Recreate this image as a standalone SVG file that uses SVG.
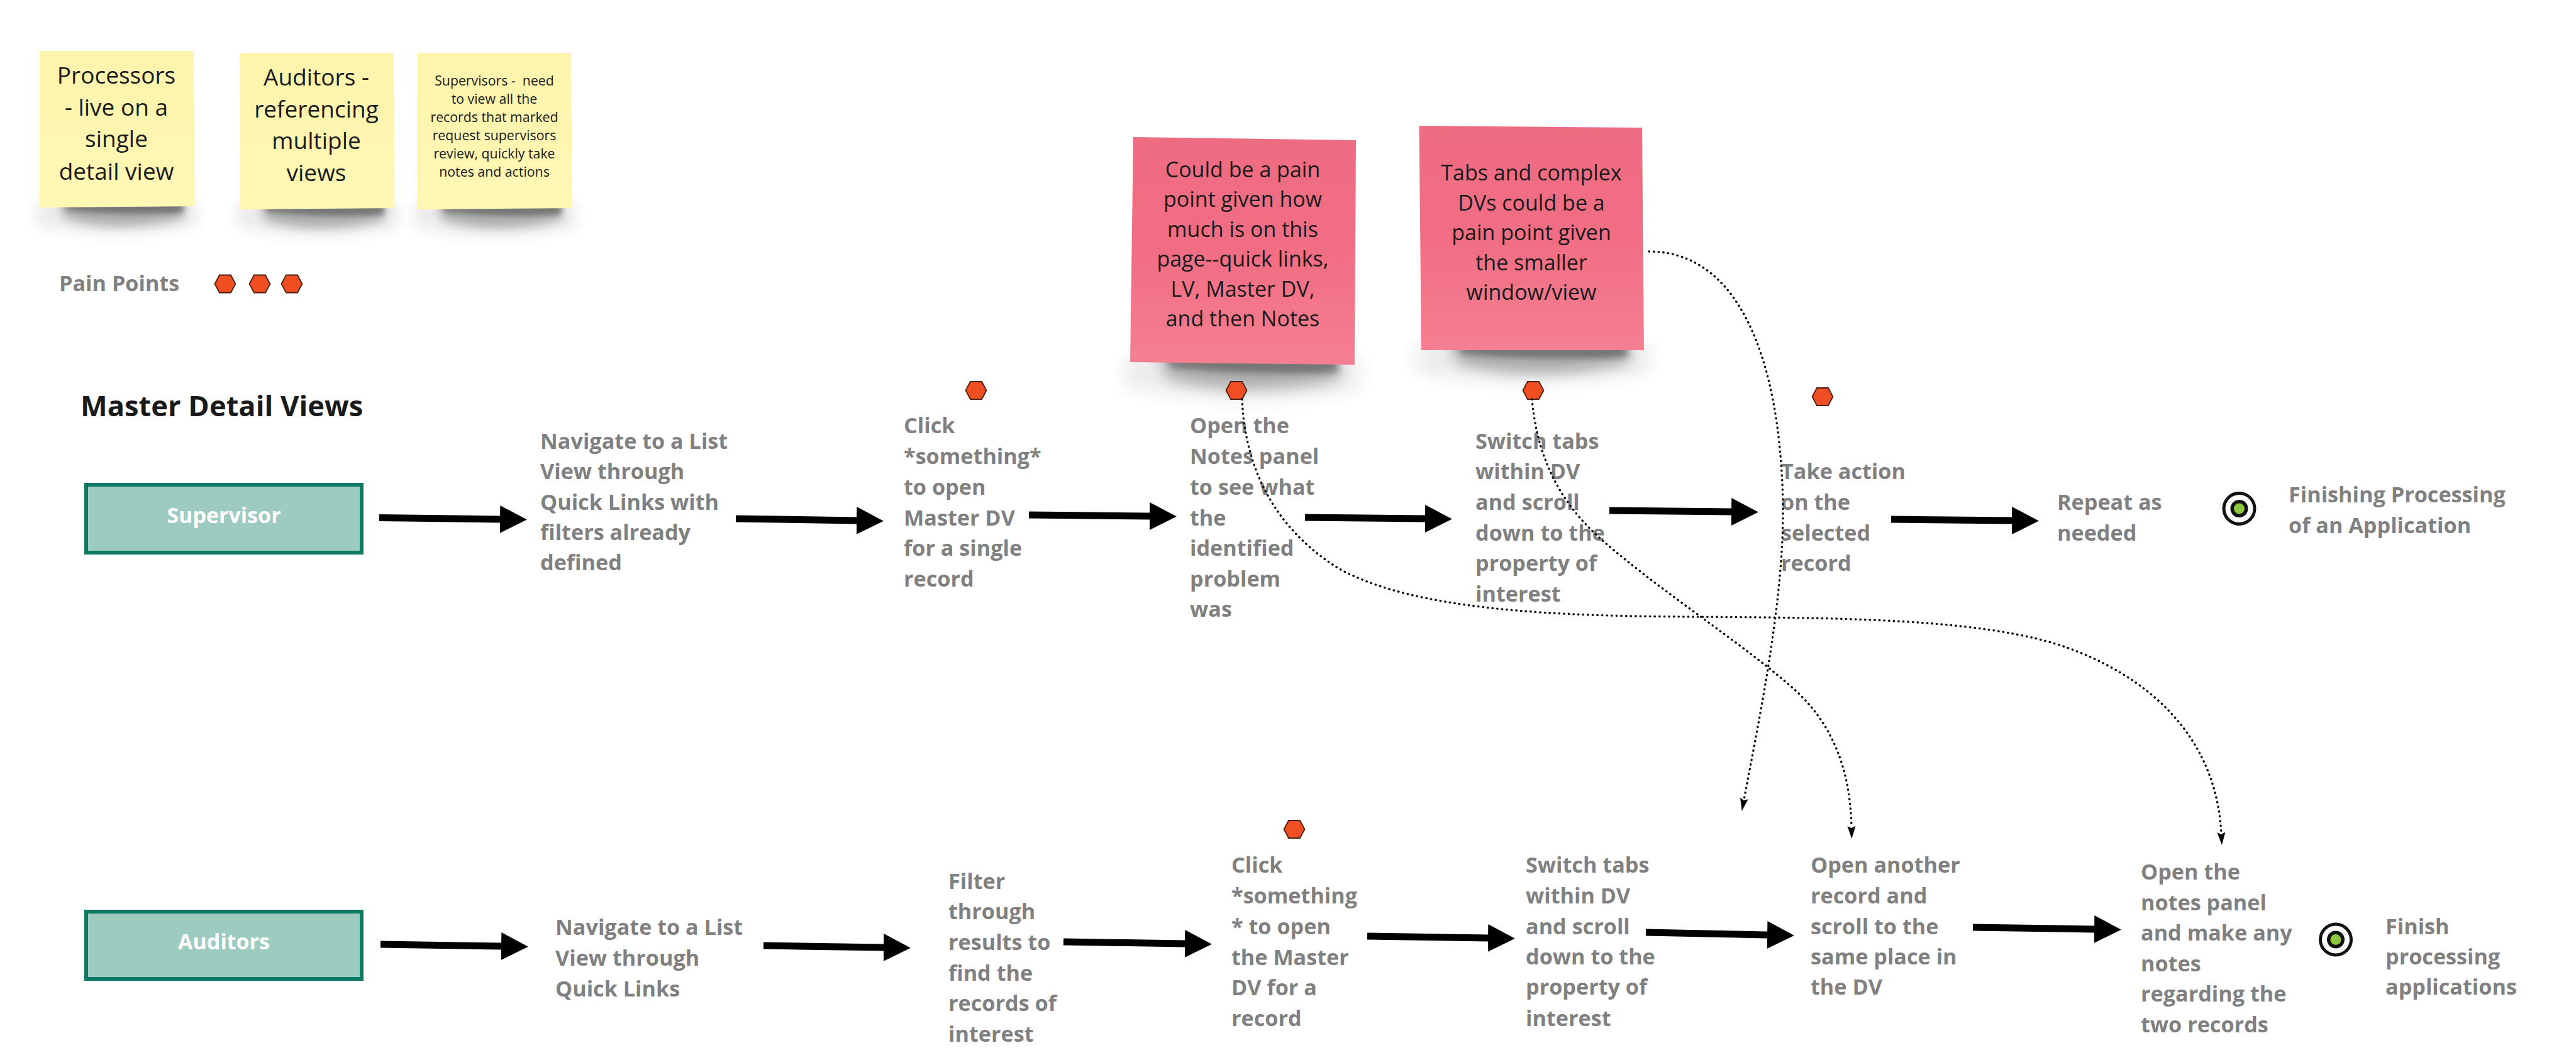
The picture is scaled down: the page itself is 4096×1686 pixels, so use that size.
<svg xmlns="http://www.w3.org/2000/svg" width="4096" height="1686" viewBox="0 0 4096 1686">
<style>
text{font-family:"Open Sans","Noto Sans",sans-serif}
.step{font-size:34.2px;font-weight:700;fill:#808080;transform:translate(-2px,-1px)}
.note{text-anchor:middle;fill:#1a1a1a}
.lg{font-size:37px}.sm{font-size:21.3px;white-space:pre}.md{font-size:34px}
.role{fill:#9ecbbf;stroke:#0f7a64;stroke-width:6}
.rolet{font-size:34px;font-weight:700;fill:#fff;text-anchor:middle}
.big{fill:none;stroke:#000;stroke-width:11;marker-end:url(#bigHead)}
.dot{fill:none;stroke:#000;stroke-width:3.4;stroke-linecap:round;stroke-dasharray:0.4 7.2;marker-end:url(#smallHead)}
.hex{fill:#f04e23;stroke:#4a2010;stroke-width:1.8}
.yel{fill:url(#yg)}.pink{fill:url(#pg)}
</style>
<defs>
<linearGradient id="yg" x1="0" y1="0" x2="0" y2="1"><stop offset="0" stop-color="#fdf5ac"/><stop offset="1" stop-color="#fff7b4"/></linearGradient>
<linearGradient id="pg" x1="0" y1="0" x2="0" y2="1"><stop offset="0" stop-color="#ee6c82"/><stop offset=".5" stop-color="#f16d83"/><stop offset="1" stop-color="#f57f91"/></linearGradient>
<filter id="b3" x="-30%" y="-100%" width="160%" height="300%"><feGaussianBlur stdDeviation="4"/></filter>
<filter id="b7" x="-30%" y="-100%" width="160%" height="300%"><feGaussianBlur stdDeviation="8"/></filter>
<filter id="b9" x="-30%" y="-100%" width="160%" height="300%"><feGaussianBlur stdDeviation="10"/></filter>
<g id="shadow">
<path d="M-6 -10H254V30Q125 60 -6 30Z" fill="#000" opacity=".07" filter="url(#b9)"/>
<path d="M32 -10H230V18Q125 44 40 18Z" fill="#000" opacity=".26" filter="url(#b7)"/>
<path d="M36 -8H230V9Q130 14 46 5Z" fill="#000" opacity=".34" filter="url(#b3)"/>
</g>
<marker id="bigHead" viewBox="0 0 4 4" refX="0" refY="2" markerWidth="4" markerHeight="4" orient="auto"><path d="M0 0L3.9 2L0 4Z" fill="#000"/></marker>
<marker id="smallHead" markerUnits="userSpaceOnUse" viewBox="0 0 20 14" refX="2" refY="7" markerWidth="20" markerHeight="14" orient="auto"><path d="M0 0.5L20 7L0 13.5L3 7Z" fill="#000"/></marker>
<polygon id="hx" class="hex" points="-16.5,0 -9,-14 9,-14 16.5,0 9,14 -9,14"/>
<g id="target"><circle r="24.5" fill="#fff" stroke="#111" stroke-width="5"/><circle r="14" fill="#111"/><circle r="8.5" fill="#8cc63f"/></g>
</defs>
<rect width="4096" height="1686" fill="#fff"/>

<g id="note-processors">
<use href="#shadow" transform="translate(62,329)"/>
<polygon class="yel" points="62.5,81 308,81 310,328 62.5,330"/>
<text class="note lg"><tspan x="185" y="133">Processors</tspan><tspan x="185" y="184">- live on a</tspan><tspan x="185" y="234">single</tspan><tspan x="185" y="286">detail view</tspan></text>
</g>
<g id="note-auditors">
<use href="#shadow" transform="translate(381,332)"/>
<polygon class="yel" points="381,84 626,84 628,331 381,333"/>
<text class="note lg"><tspan x="503" y="136">Auditors -</tspan><tspan x="503" y="187">referencing</tspan><tspan x="503" y="237">multiple</tspan><tspan x="503" y="288">views</tspan></text>
</g>
<g id="note-supervisors">
<use href="#shadow" transform="translate(663,332)"/>
<polygon class="yel" points="663,84 908,84 910,331 663,333"/>
<text class="note sm"><tspan x="786" y="136">Supervisors -  need</tspan><tspan x="786" y="165">to view all the</tspan><tspan x="786" y="194">records that marked</tspan><tspan x="786" y="223">request supervisors</tspan><tspan x="786" y="252">review, quickly take</tspan><tspan x="786" y="281">notes and actions</tspan></text>
</g>

<g id="legend-pain-points">
<text class="step" x="96" y="464">Pain Points</text>
<use href="#hx" x="358" y="451.5"/><use href="#hx" x="413" y="451.5"/><use href="#hx" x="464" y="451.5"/>
</g>

<g id="note-pain-1">
<use href="#shadow" transform="translate(1797,577) rotate(0.6) scale(1.44,1.3)"/>
<polygon class="pink" points="1802,218 2156,223 2154,580 1797,576"/>
<text class="note md"><tspan x="1976" y="282">Could be a pain</tspan><tspan x="1976" y="329">point given how</tspan><tspan x="1976" y="377">much is on this</tspan><tspan x="1976" y="424">page--quick links,</tspan><tspan x="1976" y="472">LV, Master DV,</tspan><tspan x="1976" y="519">and then Notes</tspan></text>
</g>
<g id="note-pain-2">
<use href="#shadow" transform="translate(2260,557) scale(1.43,1.2)"/>
<polygon class="pink" points="2256.5,200 2611,203 2614,557 2260,557"/>
<text class="note md"><tspan x="2435" y="287">Tabs and complex</tspan><tspan x="2435" y="335">DVs could be a</tspan><tspan x="2435" y="382">pain point given</tspan><tspan x="2435" y="430">the smaller</tspan><tspan x="2435" y="477">window/view</tspan></text>
</g>

<text id="title" x="128" y="662" font-size="45.3" font-weight="700" fill="#1a1a1a">Master Detail Views</text>

<g id="pain-s2"><use href="#hx" x="1552" y="621"/></g>
<g id="pain-s3"><use href="#hx" x="1966" y="621"/></g>
<g id="pain-s4"><use href="#hx" x="2438" y="621"/></g>
<g id="pain-s5"><use href="#hx" x="2898" y="631"/></g>
<g id="pain-a3"><use href="#hx" x="2058" y="1319"/></g>

<g id="role-supervisor"><rect class="role" x="137" y="771" width="438" height="108"/><text class="rolet" x="356" y="832">Supervisor</text></g>
<g id="role-auditors"><rect class="role" x="137" y="1450" width="438" height="107"/><text class="rolet" x="356" y="1510">Auditors</text></g>

<g id="s1"><text class="step"><tspan x="861" y="715">Navigate to a List</tspan><tspan x="861" y="763">View through</tspan><tspan x="861" y="812">Quick Links with</tspan><tspan x="861" y="860">filters already</tspan><tspan x="861" y="908">defined</tspan></text></g>
<g id="s2"><text class="step"><tspan x="1439" y="690">Click</tspan><tspan x="1439" y="739">*something*</tspan><tspan x="1439" y="788">to open</tspan><tspan x="1439" y="837">Master DV</tspan><tspan x="1439" y="885">for a single</tspan><tspan x="1439" y="934">record</tspan></text></g>
<g id="s3"><text class="step"><tspan x="1894" y="690">Open the</tspan><tspan x="1894" y="739">Notes panel</tspan><tspan x="1894" y="788">to see what</tspan><tspan x="1894" y="837">the</tspan><tspan x="1894" y="885">identified</tspan><tspan x="1894" y="934">problem</tspan><tspan x="1894" y="982">was</tspan></text></g>
<g id="s4"><text class="step"><tspan x="2348" y="715">Switch tabs</tspan><tspan x="2348" y="763">within DV</tspan><tspan x="2348" y="812">and scroll</tspan><tspan x="2348" y="861">down to the</tspan><tspan x="2348" y="909">property of</tspan><tspan x="2348" y="958">interest</tspan></text></g>
<g id="s5"><text class="step"><tspan x="2834" y="763">Take action</tspan><tspan x="2834" y="812">on the</tspan><tspan x="2834" y="861">selected</tspan><tspan x="2834" y="909">record</tspan></text></g>
<g id="s6"><text class="step"><tspan x="3273" y="812">Repeat as</tspan><tspan x="3273" y="861">needed</tspan></text></g>
<g id="end-s"><use href="#target" x="3560.5" y="809"/></g>
<g id="s7"><text class="step"><tspan x="3641" y="800">Finishing Processing</tspan><tspan x="3641" y="849">of an Application</tspan></text></g>

<g id="a1"><text class="step"><tspan x="885" y="1488">Navigate to a List</tspan><tspan x="885" y="1537">View through</tspan><tspan x="885" y="1586">Quick Links</tspan></text></g>
<g id="a2"><text class="step"><tspan x="1510" y="1415">Filter</tspan><tspan x="1510" y="1463">through</tspan><tspan x="1510" y="1512">results to</tspan><tspan x="1510" y="1561">find the</tspan><tspan x="1510" y="1609">records of</tspan><tspan x="1510" y="1658">interest</tspan></text></g>
<g id="a3"><text class="step"><tspan x="1960" y="1389">Click</tspan><tspan x="1960" y="1438">*something</tspan><tspan x="1960" y="1487">* to open</tspan><tspan x="1960" y="1536">the Master</tspan><tspan x="1960" y="1584">DV for a</tspan><tspan x="1960" y="1633">record</tspan></text></g>
<g id="a4"><text class="step"><tspan x="2428" y="1389">Switch tabs</tspan><tspan x="2428" y="1438">within DV</tspan><tspan x="2428" y="1487">and scroll</tspan><tspan x="2428" y="1535">down to the</tspan><tspan x="2428" y="1583">property of</tspan><tspan x="2428" y="1633">interest</tspan></text></g>
<g id="a5"><text class="step"><tspan x="2881" y="1389">Open another</tspan><tspan x="2881" y="1438">record and</tspan><tspan x="2881" y="1487">scroll to the</tspan><tspan x="2881" y="1535">same place in</tspan><tspan x="2881" y="1583">the DV</tspan></text></g>
<g id="a6"><text class="step"><tspan x="3406" y="1400">Open the</tspan><tspan x="3406" y="1449">notes panel</tspan><tspan x="3406" y="1497">and make any</tspan><tspan x="3406" y="1546">notes</tspan><tspan x="3406" y="1594">regarding the</tspan><tspan x="3406" y="1643">two records</tspan></text></g>
<g id="end-a"><use href="#target" x="3714" y="1494.5"/></g>
<g id="a7"><text class="step"><tspan x="3795" y="1487">Finish</tspan><tspan x="3795" y="1535">processing</tspan><tspan x="3795" y="1583">applications</tspan></text></g>

<g id="connectors">
<line class="big" x1="603" y1="823.5" x2="795" y2="826"/>
<line class="big" x1="1170" y1="825" x2="1362" y2="828"/>
<line class="big" x1="1636" y1="819" x2="1828" y2="821"/>
<line class="big" x1="2075" y1="823" x2="2266" y2="825"/>
<line class="big" x1="2559" y1="812" x2="2753" y2="814"/>
<line class="big" x1="3007" y1="826" x2="3199" y2="828"/>
<line class="big" x1="605" y1="1502" x2="797" y2="1505"/>
<line class="big" x1="1214" y1="1504" x2="1405" y2="1507"/>
<line class="big" x1="1691" y1="1498" x2="1884" y2="1501"/>
<line class="big" x1="2174" y1="1489" x2="2366" y2="1492"/>
<line class="big" x1="2617" y1="1483" x2="2810" y2="1487"/>
<line class="big" x1="3137" y1="1475" x2="3330" y2="1478"/>
<path class="dot" d="M2622 400C2760 400 2830 560 2835 800C2837 950 2800 1130 2773 1272"/>
<path class="dot" d="M1975 635C1980 760 2040 850 2130 905C2230 960 2400 976 2600 980C2850 984 3150 975 3300 1035C3440 1090 3525 1190 3532 1326"/>
<path class="dot" d="M2436 635C2445 740 2490 810 2552 863C2640 940 2780 1030 2857 1100C2915 1155 2942 1225 2944 1316"/>
</g>
</svg>
